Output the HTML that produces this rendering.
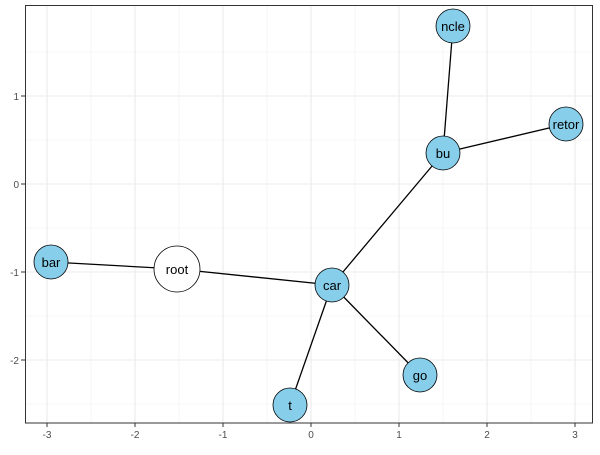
<!DOCTYPE html><html><head><style>body{margin:0;background:#fff}</style></head><body>
<svg width="600" height="450" xmlns="http://www.w3.org/2000/svg" font-family="Liberation Sans, sans-serif">
<rect x="0" y="0" width="600" height="450" fill="#fff"/>
<g stroke="#f0f0f0" stroke-width="0.6">
<line x1="91" y1="5" x2="91" y2="423"/><line x1="179" y1="5" x2="179" y2="423"/><line x1="267" y1="5" x2="267" y2="423"/><line x1="355" y1="5" x2="355" y2="423"/><line x1="443" y1="5" x2="443" y2="423"/><line x1="531" y1="5" x2="531" y2="423"/>
<line x1="25" y1="52" x2="593" y2="52"/><line x1="25" y1="140" x2="593" y2="140"/><line x1="25" y1="228" x2="593" y2="228"/><line x1="25" y1="316" x2="593" y2="316"/><line x1="25" y1="404" x2="593" y2="404"/>
</g>
<g stroke="#ebebeb" stroke-width="1.1">
<line x1="47" y1="5" x2="47" y2="423"/><line x1="135" y1="5" x2="135" y2="423"/><line x1="223" y1="5" x2="223" y2="423"/><line x1="311" y1="5" x2="311" y2="423"/><line x1="399" y1="5" x2="399" y2="423"/><line x1="487" y1="5" x2="487" y2="423"/><line x1="575" y1="5" x2="575" y2="423"/>
<line x1="25" y1="96" x2="593" y2="96"/><line x1="25" y1="184" x2="593" y2="184"/><line x1="25" y1="272" x2="593" y2="272"/><line x1="25" y1="360" x2="593" y2="360"/>
</g>
<rect x="25.5" y="5.5" width="567" height="417.5" fill="none" stroke="#333" stroke-width="1"/>
<g stroke="#333"><line x1="47" y1="423" x2="47" y2="427"/><line x1="135" y1="423" x2="135" y2="427"/><line x1="223" y1="423" x2="223" y2="427"/><line x1="311" y1="423" x2="311" y2="427"/><line x1="399" y1="423" x2="399" y2="427"/><line x1="487" y1="423" x2="487" y2="427"/><line x1="575" y1="423" x2="575" y2="427"/>
<line x1="21" y1="96" x2="25" y2="96"/><line x1="21" y1="184" x2="25" y2="184"/><line x1="21" y1="272" x2="25" y2="272"/><line x1="21" y1="360" x2="25" y2="360"/></g>
<g font-size="10" fill="#4d4d4d" text-anchor="middle"><text x="47" y="438">-3</text><text x="135" y="438">-2</text><text x="223" y="438">-1</text><text x="311" y="438">0</text><text x="399" y="438">1</text><text x="487" y="438">2</text><text x="575" y="438">3</text></g>
<g font-size="10" fill="#4d4d4d" text-anchor="end"><text x="19" y="100">1</text><text x="19" y="188">0</text><text x="19" y="276">-1</text><text x="19" y="364">-2</text></g>
<g stroke="#000" stroke-width="1.3">
<line x1="51" y1="262" x2="177" y2="269"/><line x1="177" y1="269" x2="332" y2="285"/><line x1="332" y1="285" x2="443" y2="153"/><line x1="443" y1="153" x2="453" y2="26"/><line x1="443" y1="153" x2="566" y2="124"/><line x1="332" y1="285" x2="290" y2="405"/><line x1="332" y1="285" x2="420" y2="375"/>
</g>
<g stroke="#000" stroke-width="0.8" fill="#87ceeb">
<circle cx="453" cy="26" r="17"/><circle cx="566" cy="124" r="17"/><circle cx="443" cy="153" r="17"/><circle cx="332" cy="285" r="17"/><circle cx="51" cy="262" r="17"/><circle cx="290" cy="405" r="17"/><circle cx="420" cy="375" r="17"/>
<circle cx="177" cy="269" r="23" fill="#fff"/></g>
<g font-size="13" fill="#000" text-anchor="middle">
<text x="453" y="31">ncle</text><text x="566" y="129">retor</text><text x="443" y="158">bu</text><text x="332" y="290">car</text><text x="51" y="267">bar</text><text x="290" y="410">t</text><text x="420" y="380">go</text><text x="177" y="274">root</text></g>
</svg></body></html>
